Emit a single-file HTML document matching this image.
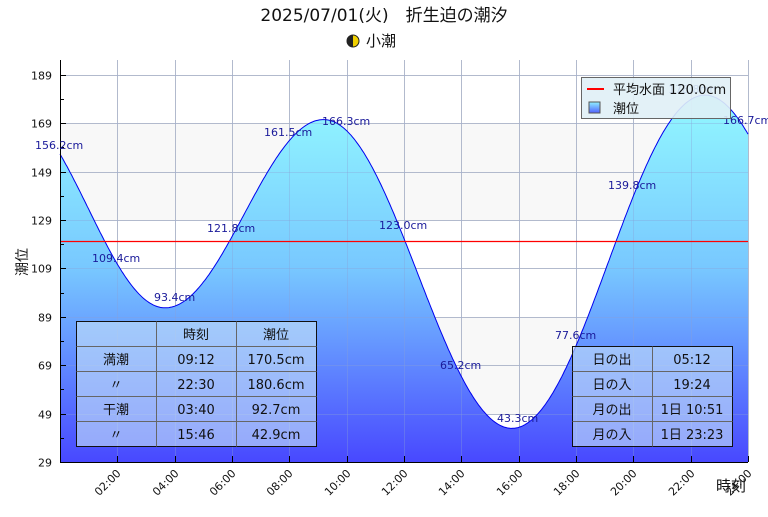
<!DOCTYPE html>
<html><head><meta charset="utf-8"><style>
body{margin:0;background:#fff;}
svg text{font-family:"DejaVu Sans","Noto Sans CJK JP",sans-serif;}
</style></head><body>
<svg id="s" width="768" height="512" xmlns="http://www.w3.org/2000/svg">
<defs>
<linearGradient id="g" gradientUnits="userSpaceOnUse" x1="0" y1="110" x2="0" y2="462">
<stop offset="0" stop-color="#90f4ff"/><stop offset="0.45" stop-color="#78c8ff"/><stop offset="1" stop-color="#4848ff"/>
</linearGradient>
<linearGradient id="lg" x1="0" y1="0" x2="0" y2="1"><stop offset="0" stop-color="#90f0ff"/><stop offset="1" stop-color="#5060ff"/></linearGradient>
</defs>
<text x="384" y="21" font-size="17" text-anchor="middle" fill="#111">2025/07/01(火)　折生迫の潮汐</text>
<circle cx="353" cy="41" r="6" fill="#f0d000" stroke="#222" stroke-width="1"/>
<path d="M353 35 A6 6 0 0 0 353 47 Z" fill="#222"/>
<text x="366" y="46" font-size="15" fill="#111">小潮</text>
<rect x="60" y="60" width="688" height="402" fill="#fff"/>
<rect x="60" y="123" width="688" height="97" fill="#f8f8f8"/>
<rect x="60" y="317" width="688" height="97" fill="#f8f8f8"/>
<g id="grid" stroke="#c8c8c8" stroke-width="1"></g>
<path id="fill" fill="url(#g)" stroke="none"/>
<g id="grid2" stroke="#8aa0d8" stroke-opacity="0.35" stroke-width="1"></g>
<path id="line" fill="none" stroke="#0000ee" stroke-width="1"/>
<line x1="60.5" y1="60" x2="60.5" y2="462" stroke="#000"/>
<line x1="60" y1="462.5" x2="748" y2="462.5" stroke="#000"/>
<g id="ticks" stroke="#000"></g>
<g id="lbl" font-size="11" fill="#111"></g>
<text x="27" y="262" font-size="14" fill="#111" transform="rotate(-90 27 262)" text-anchor="middle">潮位</text>
<text x="716" y="491" font-size="15" fill="#111">時刻</text>
<g font-size="11" fill="#1a1a9a">
<text x="35" y="149">156.2cm</text>
<text x="92" y="262">109.4cm</text>
<text x="154" y="301">93.4cm</text>
<text x="207" y="232">121.8cm</text>
<text x="264" y="136">161.5cm</text>
<text x="322" y="125">166.3cm</text>
<text x="379" y="229">123.0cm</text>
<text x="440" y="369">65.2cm</text>
<text x="497" y="422">43.3cm</text>
<text x="555" y="339">77.6cm</text>
<text x="608" y="189">139.8cm</text>
<text x="668" y="93">178.8cm</text>
<text x="723" y="124">166.7cm</text>
</g>
<rect x="581.5" y="77.5" width="149" height="41" fill="#e0f0f6" fill-opacity="0.9" stroke="#666"/>
<line x1="587" y1="89" x2="604" y2="89" stroke="#f00" stroke-width="2"/>
<text x="613" y="94" font-size="13" fill="#111">平均水面 120.0cm</text>
<rect x="589" y="102" width="11" height="11" fill="url(#lg)" stroke="#555"/>
<text x="613" y="113" font-size="13" fill="#111">潮位</text>
<g font-size="13" fill="#111" text-anchor="middle">
<rect x="76.5" y="321.5" width="240" height="125" fill="#c8e4f8" fill-opacity="0.6" stroke="#111"/>
<path d="M156.5 321.5V446.5M236.5 321.5V446.5M76.5 346.5H316.5M76.5 371.5H316.5M76.5 396.5H316.5M76.5 421.5H316.5" stroke="#666" fill="none"/>
<text x="196" y="339">時刻</text><text x="276" y="339">潮位</text>
<text x="116" y="364">満潮</text><text x="196" y="364">09:12</text><text x="276" y="364">170.5cm</text>
<text x="116" y="389">〃</text><text x="196" y="389">22:30</text><text x="276" y="389">180.6cm</text>
<text x="116" y="414">干潮</text><text x="196" y="414">03:40</text><text x="276" y="414">92.7cm</text>
<text x="116" y="439">〃</text><text x="196" y="439">15:46</text><text x="276" y="439">42.9cm</text>
<rect x="572.5" y="346.5" width="160" height="100" fill="#c8e4f8" fill-opacity="0.6" stroke="#111"/>
<path d="M652.5 346.5V446.5M572.5 371.5H732.5M572.5 396.5H732.5M572.5 421.5H732.5" stroke="#666" fill="none"/>
<text x="612" y="364">日の出</text><text x="692" y="364">05:12</text>
<text x="612" y="389">日の入</text><text x="692" y="389">19:24</text>
<text x="612" y="414">月の出</text><text x="692" y="414">1日 10:51</text>
<text x="612" y="439">月の入</text><text x="692" y="439">1日 23:23</text>
</g>
<line x1="61" y1="241.5" x2="748" y2="241.5" stroke="#ff0000" stroke-width="1.2"/>
</svg>
<script>
var X=function(t){return 60+t*688/24;},Y=function(v){return 462-(v-29)*48.4/20;};
var ex=[[-1.70,175],[3.667,92.7],[9.2,170.5],[15.767,42.9],[22.5,180.6],[28.8,60]];
function val(t){for(var i=0;i<ex.length-1;i++){var a=ex[i],b=ex[i+1];if(t>=a[0]&&t<=b[0]){var f=(t-a[0])/(b[0]-a[0]);return b[1]+(a[1]-b[1])*(1+Math.cos(Math.PI*f))/2;}}return 120;}
var d="";for(var t=0;t<=24.0001;t+=0.05){d+=(t==0?"M":"L")+X(t).toFixed(1)+" "+Y(val(t)).toFixed(1);}
document.getElementById("line").setAttribute("d",d);
document.getElementById("fill").setAttribute("d",d+"L748 462L60 462Z");
var ns="http://www.w3.org/2000/svg";
function el(p,n,a,txt){var e=document.createElementNS(ns,n);for(var k in a)e.setAttribute(k,a[k]);if(txt)e.textContent=txt;document.getElementById(p).appendChild(e);}
for(var h=2;h<=24;h+=2){var x=Math.round(X(h))+0.5;["grid","grid2"].forEach(function(g){el(g,"line",{x1:x,y1:60,x2:x,y2:462});});
el("ticks","line",{x1:x,y1:456,x2:x,y2:462});
var lbl=(h<10?"0":"")+h+":00";el("lbl","text",{x:x+4,y:474,"text-anchor":"end",transform:"rotate(-45 "+(x+4)+" 474)"},lbl);}
for(var v=29;v<=189;v+=20){var y=Math.round(Y(v))+0.5;["grid","grid2"].forEach(function(g){el(g,"line",{x1:60,y1:y,x2:748,y2:y});});
el("ticks","line",{x1:60,y1:y,x2:66,y2:y});el("lbl","text",{x:52,y:y+4,"text-anchor":"end"},""+v);}
for(var v=39;v<=189;v+=20){var y=Math.round(Y(v))+0.5;el("ticks","line",{x1:60,y1:y,x2:64,y2:y});}
</script>
</body></html>
